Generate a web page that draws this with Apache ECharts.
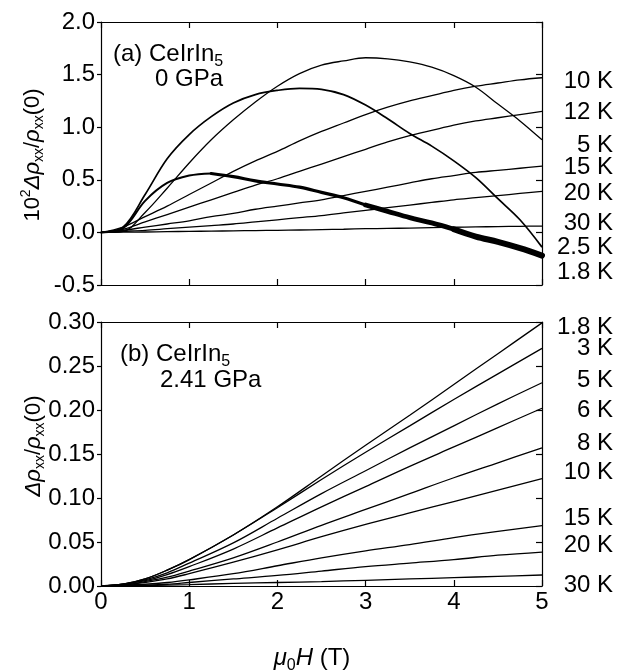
<!DOCTYPE html>
<html>
<head>
<meta charset="utf-8">
<script src="https://cdn.jsdelivr.net/npm/echarts@6/dist/echarts.min.js"></script>
<style>html,body{margin:0;padding:0;background:#fff}#c{width:625px;height:671px}</style>
</head>
<body>
<div id="c"></div>
<script>
// ---------- DATA ----------
// Panel (a) CeIrIn5, 0 GPa : 10^2 Δρxx/ρxx(0) vs μ0H (T)
var topField = [0,0.25,0.5,0.75,1,1.25,1.5,1.75,2,2.25,2.5,2.75,3,3.25,3.5,3.75,4,4.25,4.5,4.75,5];
var topNames = ['1.8 K','2.5 K','5 K','10 K','12 K','15 K','20 K','30 K'];
var top_1p8K = [0,0.04,0.30,0.47,0.54,0.56,0.53,0.49,0.46,0.43,0.38,0.33,0.26,0.20,0.14,0.09,0.03,-0.04,-0.09,-0.15,-0.22];
var top_2p5K = [0,0.05,0.36,0.70,0.93,1.10,1.23,1.31,1.35,1.37,1.36,1.31,1.21,1.08,0.94,0.82,0.68,0.52,0.32,0.12,-0.14];
var top_5K   = [0,0.01,0.19,0.42,0.66,0.88,1.07,1.24,1.39,1.51,1.59,1.63,1.66,1.65,1.62,1.57,1.49,1.38,1.22,1.06,0.88];
var top_10K  = [0,0.05,0.15,0.25,0.36,0.47,0.58,0.68,0.77,0.87,0.96,1.04,1.12,1.19,1.25,1.30,1.35,1.39,1.42,1.45,1.47];
var top_12K  = [0,0.03,0.10,0.17,0.24,0.31,0.38,0.45,0.51,0.58,0.65,0.72,0.79,0.86,0.92,0.97,1.02,1.06,1.09,1.12,1.15];
var top_15K  = [0,0.02,0.05,0.08,0.11,0.15,0.18,0.22,0.25,0.28,0.31,0.35,0.39,0.43,0.47,0.51,0.54,0.57,0.59,0.61,0.63];
var top_20K  = [0,0.01,0.02,0.035,0.05,0.065,0.08,0.10,0.12,0.14,0.16,0.185,0.21,0.235,0.26,0.285,0.31,0.33,0.35,0.37,0.39];
var top_30K  = [0,0.002,0.004,0.007,0.01,0.012,0.015,0.017,0.02,0.023,0.026,0.03,0.035,0.038,0.041,0.045,0.049,0.052,0.055,0.058,0.06];
var topSeries = [top_1p8K, top_2p5K, top_5K, top_10K, top_12K, top_15K, top_20K, top_30K];
var topRightLabels = ['10 K','12 K','5 K','15 K','20 K','30 K','2.5 K','1.8 K'];

// Panel (b) CeIrIn5, 2.41 GPa : Δρxx/ρxx(0) vs μ0H (T)
var botField = [0,0.25,0.5,0.75,1,1.5,2,2.5,3,3.5,4,4.5,5];
var botNames = ['1.8 K','3 K','5 K','6 K','8 K','10 K','15 K','20 K','30 K'];
var bot_1p8K = [0,0.002,0.008,0.018,0.030,0.058,0.090,0.125,0.160,0.194,0.229,0.264,0.299];
var bot_3K   = [0,0.002,0.008,0.018,0.030,0.058,0.089,0.121,0.152,0.182,0.212,0.241,0.270];
var bot_5K   = [0,0.002,0.007,0.015,0.026,0.049,0.077,0.105,0.131,0.157,0.182,0.207,0.231];
var bot_6K   = [0,0.002,0.006,0.013,0.022,0.042,0.066,0.090,0.113,0.136,0.158,0.180,0.202];
var bot_8K   = [0,0.001,0.005,0.010,0.017,0.032,0.050,0.069,0.087,0.105,0.123,0.140,0.157];
var bot_10K  = [0,0.001,0.004,0.008,0.014,0.027,0.041,0.056,0.070,0.083,0.096,0.109,0.122];
var bot_15K  = [0,0.001,0.002,0.004,0.007,0.014,0.023,0.032,0.040,0.047,0.055,0.062,0.0685];
var bot_20K  = [0,0.0005,0.001,0.002,0.004,0.008,0.012,0.017,0.022,0.026,0.030,0.035,0.0386];
var bot_30K  = [0,0,0.0005,0.001,0.0015,0.003,0.004,0.005,0.0065,0.008,0.0095,0.011,0.0125];
var botSeries = [bot_1p8K, bot_3K, bot_5K, bot_6K, bot_8K, bot_10K, bot_15K, bot_20K, bot_30K];
var botRightLabels = ['1.8 K','3 K','5 K','6 K','8 K','10 K','15 K','20 K','30 K'];

// ---------- LAYOUT ----------
var FONT = 'Liberation Sans, Arial, Helvetica, sans-serif';
var FS = 24;
var G = { left: 101, width: 441 };
var topGrid = { top: 22, height: 263 };
var botGrid = { top: 322, height: 264 };
var topLabelY = [81, 112, 145, 167, 193, 223, 247, 272];
var botLabelY = [327, 348, 380, 410, 443, 472, 518, 545, 585];
var topWidths = [2, 1.7, 1.3, 1.3, 1.3, 1.3, 1.3, 1.3];
// the noisy 1.8 K trace is drawn as a band that widens with field
var noisySegments = [ { from: 0, to: 5, width: 2 }, { from: 5, to: 12, width: 3.2 }, { from: 12, to: 16, width: 4.8 }, { from: 16, to: 20, width: 6 } ];

function pairs(xs, ys) { return xs.map(function (x, i) { return [x, ys[i]]; }); }

var blackLine = { show: true, onZero: false, lineStyle: { color: '#000', width: 1.2 } };
function xAx(gi, pos, showLabels) {
  return {
    type: 'value', gridIndex: gi, position: pos, min: 0, max: 5, interval: 1,
    axisLine: blackLine,
    axisTick: { show: true, inside: true, length: 6, lineStyle: { color: '#000', width: 1.2 } },
    axisLabel: { show: showLabels, color: '#000', fontFamily: FONT, fontSize: FS, margin: 4 },
    splitLine: { show: false }
  };
}
function yAx(gi, pos, min, max, itv, dec) {
  var left = pos === 'left';
  return {
    type: 'value', gridIndex: gi, position: pos, min: min, max: max, interval: itv,
    axisLine: blackLine,
    axisTick: { show: true, inside: !left, length: left ? 4 : 6, lineStyle: { color: '#000', width: 1.2 } },
    axisLabel: { show: left, color: '#000', fontFamily: FONT, fontSize: FS, margin: 6,
      formatter: function (v) { return v.toFixed(dec); } },
    splitLine: { show: false }
  };
}

var series = [];
topSeries.forEach(function (ys, i) {
  if (i === 0) {
    noisySegments.forEach(function (seg) {
      series.push({ name: 'a ' + topNames[i], type: 'line', xAxisIndex: 0, yAxisIndex: 0,
        data: pairs(topField.slice(seg.from, seg.to + 1), ys.slice(seg.from, seg.to + 1)),
        showSymbol: false, smooth: 0.35,
        lineStyle: { color: '#000', width: seg.width, cap: 'round', join: 'round' }, silent: true });
    });
    return;
  }
  series.push({ name: 'a ' + topNames[i], type: 'line', xAxisIndex: 0, yAxisIndex: 0,
    data: pairs(topField, ys), showSymbol: false, smooth: 0.35,
    lineStyle: { color: '#000', width: topWidths[i] }, silent: true });
});
botSeries.forEach(function (ys, i) {
  series.push({ name: 'b ' + botNames[i], type: 'line', xAxisIndex: 2, yAxisIndex: 2,
    data: pairs(botField, ys), showSymbol: false, smooth: 0.35,
    lineStyle: { color: '#000', width: 1.3 }, silent: true });
});

function makeRich(fs, sfs) {
  var lh = Math.round(fs * 1.15);
  return {
    n: { fontFamily: FONT, fontSize: fs, color: '#000', verticalAlign: 'top', lineHeight: lh },
    it: { fontFamily: FONT, fontSize: fs, fontStyle: 'italic', color: '#000', verticalAlign: 'top', lineHeight: lh },
    sub: { fontFamily: FONT, fontSize: sfs, color: '#000', verticalAlign: 'top', lineHeight: Math.round(sfs * 1.2), padding: [Math.round(fs * 0.5), 0, 0, 0] },
    sup: { fontFamily: FONT, fontSize: sfs, color: '#000', verticalAlign: 'top', lineHeight: Math.round(sfs * 1.2), padding: [-2, 0, 0, 0] }
  };
}
var richLabel = makeRich(24, 16);
var richTitle = makeRich(22, 14);

function rtxt(x, y, text, align, rot, rich) {
  return { type: 'text', x: x, y: y, rotation: rot || 0, silent: true,
    style: { text: text, rich: rich, font: FS + 'px ' + FONT, fill: '#000',
      align: align, verticalAlign: 'middle' } };
}
function ptxt(x, y, text, align) {
  return { type: 'text', x: x, y: y, silent: true,
    style: { text: text, font: FS + 'px ' + FONT, fill: '#000', align: align, verticalAlign: 'middle' } };
}

var graphics = [];
graphics.push(rtxt(113, 56, '{n|(a) CeIrIn}{sub|5}', 'left', 0, richLabel));
graphics.push(ptxt(155, 79, '0 GPa', 'left'));
graphics.push(rtxt(120, 356, '{n|(b) CeIrIn}{sub|5}', 'left', 0, richLabel));
graphics.push(ptxt(160, 380, '2.41 GPa', 'left'));
graphics.push(rtxt(34, 155, '{n|10}{sup|2}{it|Δρ}{sub|xx}{n|/}{it|ρ}{sub|xx}{n|(0)}', 'center', Math.PI / 2, richTitle));
graphics.push(rtxt(35, 446, '{it|Δρ}{sub|xx}{n|/}{it|ρ}{sub|xx}{n|(0)}', 'center', Math.PI / 2, richTitle));
graphics.push(rtxt(312, 660, '{it|μ}{sub|0}{it|H}{n| (T)}', 'center', 0, richLabel));
topRightLabels.forEach(function (t, i) { graphics.push(ptxt(613, topLabelY[i], t, 'right')); });
botRightLabels.forEach(function (t, i) { graphics.push(ptxt(613, botLabelY[i], t, 'right')); });

var chart = echarts.init(document.getElementById('c'), null, { renderer: 'canvas' });
chart.setOption({
  animation: false,
  backgroundColor: '#fff',
  grid: [
    { left: G.left, width: G.width, top: topGrid.top, height: topGrid.height, show: false },
    { left: G.left, width: G.width, top: botGrid.top, height: botGrid.height, show: false }
  ],
  xAxis: [xAx(0, 'bottom', false), xAx(0, 'top', false), xAx(1, 'bottom', true), xAx(1, 'top', false)],
  yAxis: [yAx(0, 'left', -0.5, 2.0, 0.5, 1), yAx(0, 'right', -0.5, 2.0, 0.5, 1),
          yAx(1, 'left', 0, 0.30, 0.05, 2), yAx(1, 'right', 0, 0.30, 0.05, 2)],
  series: series,
  graphic: graphics
});
</script>
</body>
</html>
